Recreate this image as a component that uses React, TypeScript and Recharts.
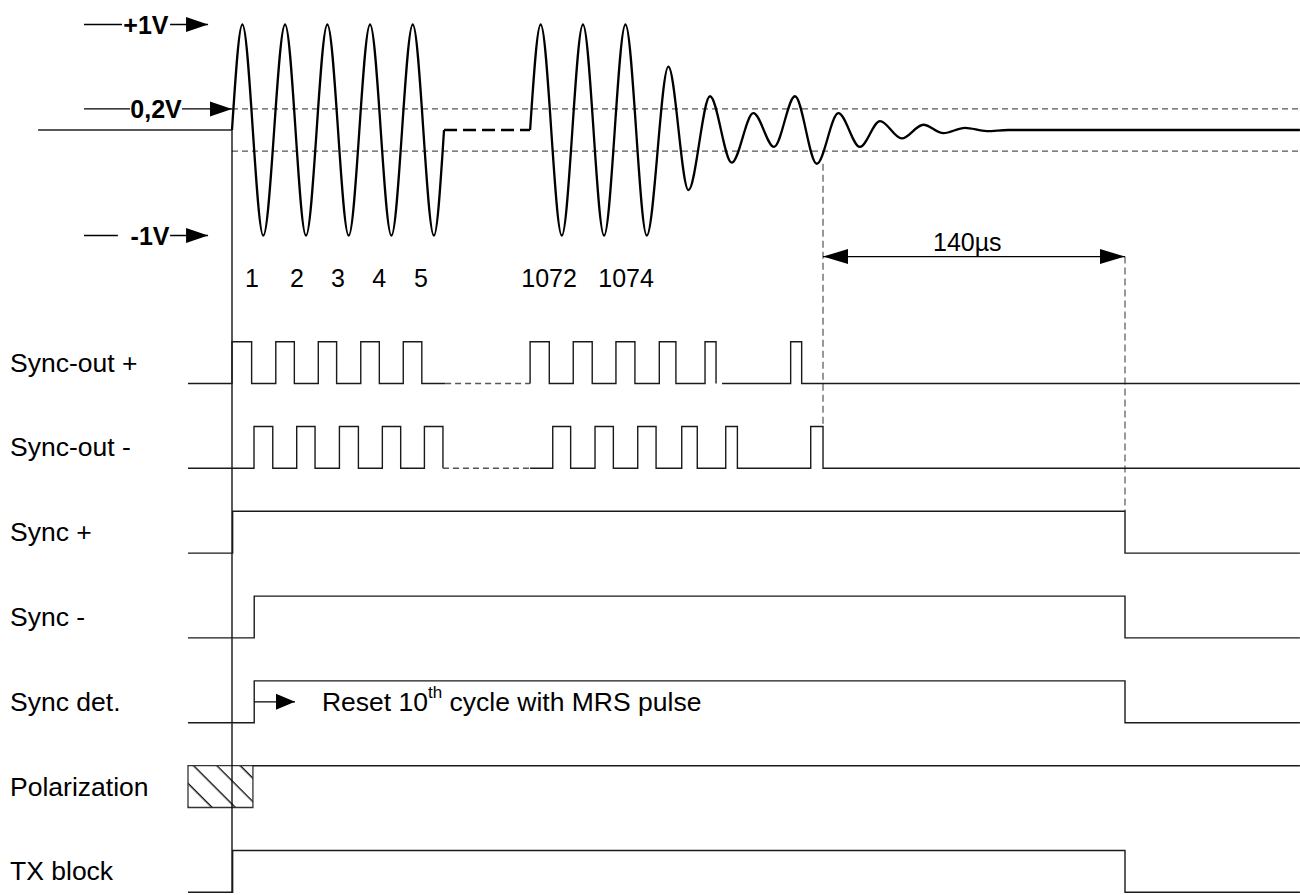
import { ComposedChart, Line, XAxis, YAxis, ReferenceLine, ReferenceDot, ReferenceArea } from 'recharts';

const W = 1300;
const H = 895;
const FONT = '"Liberation Sans", Arial, Helvetica, sans-serif';

// time axis in µs, t = 0 where the burst starts
const PX_PER_US = 2.157;
const T0_PX = 232;
const T_DOMAIN: [number, number] = [-T0_PX / PX_PER_US, (W - T0_PX) / PX_PER_US];
const T_END = 495.1;

// analog trace in volts
const ZERO_PX = 130;
const PX_PER_V = 105.5;
const V_DOMAIN: [number, number] = [(ZERO_PX - H) / PX_PER_V, ZERO_PX / PX_PER_V];
const pxToVolt = (px: number) => (ZERO_PX - px) / PX_PER_V;

// logic rows: 0 = low, 1 = high
const ROW_TOP = 341.7;
const ROW_STEP = 84.8;
const ROW_SWING = 41.8;
const rowHighPx = (i: number) => ROW_TOP + ROW_STEP * i;
const rowDomain = (i: number): [number, number] => {
  const hi = rowHighPx(i);
  const lo = hi + ROW_SWING;
  const max = lo / (lo - hi);
  return [max - H / (lo - hi), max];
};

type P = [number, number | null];

// ---- analog burst (t µs, volts) ----
const LEAD_IN: P[] = [[-89.9, 0], [0, 0]];
const BURST_FIRST: P[] = [
  [0, 0], [4.8, 1], [14.5, -1], [24.6, 1], [34.3, -1], [44.2, 1], [54.1, -1],
  [64.0, 1], [73.9, -1], [83.8, 1], [93.6, -1], [98.3, 0],
];
const BURST_SKIP: P[] = [[98.3, 0], [138.2, 0]];
const BURST_LAST: P[] = [
  [138.2, 0], [143.1, 1], [152.9, -1], [162.7, 1], [172.5, -1], [182.4, 1], [192.3, -1],
  [202.3, 0.6], [211.6, -0.57], [221.6, 0.32], [231.7, -0.31], [241.7, 0.16], [251.3, -0.16],
  [261.0, 0.32], [271.1, -0.32], [281.1, 0.16], [291.1, -0.16], [300.4, 0.085], [310.5, -0.08],
  [320.5, 0.05], [329.8, -0.03], [339.8, 0.02], [349.9, -0.01], [359.8, 0], [T_END, 0],
];
const CYCLE_LABELS = ['1', '2', '3', '4', '5', '1072', '1074'];
const CYCLE_T = [9.3, 30.1, 49.1, 68.2, 87.6, 147.0, 182.7];

// ---- logic rows ----
const ROW_LABELS = ['Sync-out +', 'Sync-out -', 'Sync +', 'Sync -', 'Sync det.', 'Polarization', 'TX block'];

const SYNC_OUT_P_A: P[] = [
  [-20.4, 0], [0, 1], [9.1, 0], [20.3, 1], [28.9, 0], [40.0, 1], [48.5, 0],
  [59.7, 1], [68.3, 0], [79.4, 1], [88.0, 0], [98.8, 0],
];
const SYNC_OUT_P_SKIP: P[] = [[98.8, 0], [138.2, 0]];
const SYNC_OUT_P_B: P[] = [
  [138.2, 0], [138.2, 1], [147.1, 0], [158.2, 1], [167.0, 0], [178.0, 1], [186.8, 0],
  [198.1, 1], [205.8, 0], [219.3, 1], [224.4, 0], [225.8, null], [227.2, 0],
  [259.0, 1], [264.1, 0], [T_END, 0],
];
const SYNC_OUT_N_A: P[] = [
  [-20.4, 0], [10.2, 1], [18.9, 0], [30.0, 1], [38.5, 0], [49.8, 1], [58.6, 0],
  [69.7, 1], [78.2, 0], [89.2, 1], [97.8, 0],
];
const SYNC_OUT_N_SKIP: P[] = [[97.8, 0], [138.2, 0]];
const SYNC_OUT_N_B: P[] = [
  [138.2, 0], [148.7, 1], [157.0, 0], [168.3, 1], [176.8, 0], [188.1, 1], [196.6, 0],
  [208.5, 1], [215.7, 0], [228.9, 1], [234.3, 0], [268.3, 1], [274.0, 0], [T_END, 0],
];
const SYNC_P: P[] = [[-20.4, 0], [0.3, 1], [414.0, 0], [T_END, 0]];
const SYNC_N: P[] = [[-20.4, 0], [10.3, 1], [414.0, 0], [T_END, 0]];
const SYNC_DET: P[] = [[-20.4, 0], [10.3, 1], [414.0, 0], [T_END, 0]];
const POLARIZATION: P[] = [[9.7, 1], [T_END, 1]];
const POLARIZATION_BOX: [number, number] = [-20.4, 9.7];
const TX_BLOCK: P[] = [[-20.4, 0], [0.3, 1], [414.0, 0], [T_END, 0]];

// timing annotation
const GUARD_START = 274.0;
const GUARD_END = 414.0;

// level markers at the left of the analog trace
const LEVELS = [
  { text: '+1V', v: 1, textT: -39.9, a: [-68.6, -51.0], b: [-28.7, -11.1], tip: -11.1 },
  { text: '0,2V', v: 0.2, textT: -35.2, a: [-68.6, -47.3], b: [-23.2, 0], tip: 0 },
  { text: '-1V', v: -1, textT: -38.0, a: [-68.6, -52.9], b: [-28.7, -11.1], tip: -11.1 },
];

const rows = (pts: P[]) => pts.map(([t, v]) => ({ t, v }));

const arrowHead = (len: number, half: number, dir: 1 | -1) => (p: any) => (
  <path d={`M${p.cx},${p.cy}l${-dir * len},${-half}v${2 * half}z`} fill="#000" />
);

const label = (text: string, anchor: 'start' | 'middle', size: number, weight: string = 'normal') => (p: any) => (
  <text x={p.cx} y={p.cy} textAnchor={anchor} dominantBaseline="central" fontFamily={FONT} fontSize={size} fontWeight={weight} fill="#000">
    {text}
  </text>
);

const resetNote = (p: any) => (
  <text x={p.cx} y={p.cy} dominantBaseline="central" fontFamily={FONT} fontSize={26.5} fill="#000">
    Reset 10
    <tspan dy={-10} fontSize={17}>th</tspan>
    <tspan dy={10}> cycle with MRS pulse</tspan>
  </text>
);

const LOGIC = '#1a1a1a';

function trace(id: string, data: P[], axis: string, opts: { dashed?: boolean; width?: number; curve?: 'monotone' | 'stepAfter' | 'linear'; color?: string } = {}) {
  return (
    <Line
      key={id}
      data={rows(data)}
      dataKey="v"
      yAxisId={axis}
      type={opts.curve ?? 'stepAfter'}
      stroke={opts.color ?? LOGIC}
      strokeWidth={opts.width ?? 1.4}
      strokeDasharray={opts.dashed ? '6 4' : undefined}
      dot={false}
      activeDot={false}
      isAnimationActive={false}
    />
  );
}

export default function App() {
  return (
    <div style={{ position: 'absolute', left: 0, top: 0, width: W, height: H, background: '#fff' }}>
      <ComposedChart width={W} height={H} margin={{ top: 0, right: 0, bottom: 0, left: 0 }}>
        <defs>
          <pattern id="hatch" patternUnits="userSpaceOnUse" width="16.5" height="16.5" patternTransform="rotate(-45)">
            <line x1="8" y1="0" x2="8" y2="16.5" stroke="#000" strokeWidth="1.3" />
          </pattern>
        </defs>
        <XAxis type="number" dataKey="t" domain={T_DOMAIN} allowDataOverflow hide />
        <YAxis yAxisId="wave" type="number" domain={V_DOMAIN} allowDataOverflow hide />
        {ROW_LABELS.map((_, i) => (
          <YAxis key={i} yAxisId={`row${i}`} type="number" domain={rowDomain(i)} allowDataOverflow hide />
        ))}

        {/* threshold lines */}
        <ReferenceLine yAxisId="wave" ifOverflow="visible" segment={[{ x: 0, y: 0.2 }, { x: T_DOMAIN[1], y: 0.2 }]} stroke="#555" strokeWidth={1.2} strokeDasharray="6 4" />
        <ReferenceLine yAxisId="wave" ifOverflow="visible" segment={[{ x: 0, y: -0.2 }, { x: T_DOMAIN[1], y: -0.2 }]} stroke="#555" strokeWidth={1.2} strokeDasharray="6 4" />

        {/* t = 0 marker through all rows */}
        <ReferenceLine yAxisId="wave" ifOverflow="visible" segment={[{ x: 0, y: 0 }, { x: 0, y: pxToVolt(rowHighPx(6) + ROW_SWING) }]} stroke="#000" strokeWidth={1.3} />

        {/* dashed guides for the 140µs window */}
        <ReferenceLine yAxisId="wave" ifOverflow="visible" segment={[{ x: GUARD_START, y: -0.32 }, { x: GUARD_START, y: pxToVolt(rowHighPx(1)) }]} stroke="#555" strokeWidth={1.2} strokeDasharray="7 4" />
        <ReferenceLine yAxisId="wave" ifOverflow="visible" segment={[{ x: GUARD_END, y: -1.2 }, { x: GUARD_END, y: pxToVolt(rowHighPx(2)) }]} stroke="#555" strokeWidth={1.2} strokeDasharray="7 4" />
        <ReferenceLine yAxisId="wave" ifOverflow="visible" segment={[{ x: GUARD_START, y: -1.2 }, { x: GUARD_END, y: -1.2 }]} stroke="#000" strokeWidth={1.3} />
        <ReferenceDot yAxisId="wave" ifOverflow="visible" x={GUARD_START} y={-1.2} r={1} shape={arrowHead(25, 7.5, -1)} />
        <ReferenceDot yAxisId="wave" ifOverflow="visible" x={GUARD_END} y={-1.2} r={1} shape={arrowHead(25, 7.5, 1)} />
        <ReferenceDot yAxisId="wave" ifOverflow="visible" x={340.9} y={-1.066} r={1} shape={label('140µs', 'middle', 25)} />

        {/* level markers */}
        {LEVELS.map((m) => [
          <ReferenceLine key={m.text + 'a'} yAxisId="wave" ifOverflow="visible" segment={[{ x: m.a[0], y: m.v }, { x: m.a[1], y: m.v }]} stroke="#000" strokeWidth={1.3} />,
          <ReferenceLine key={m.text + 'b'} yAxisId="wave" ifOverflow="visible" segment={[{ x: m.b[0], y: m.v }, { x: m.b[1], y: m.v }]} stroke="#000" strokeWidth={1.3} />,
          <ReferenceDot key={m.text + 't'} yAxisId="wave" ifOverflow="visible" x={m.textT} y={m.v} r={1} shape={label(m.text, 'middle', 25, 'bold')} />,
          <ReferenceDot key={m.text + 'h'} yAxisId="wave" ifOverflow="visible" x={m.tip} y={m.v} r={1} shape={arrowHead(22, 7.5, 1)} />,
        ])}

        {/* cycle numbers */}
        {CYCLE_LABELS.map((c, i) => (
          <ReferenceDot key={c} yAxisId="wave" ifOverflow="visible" x={CYCLE_T[i]} y={-1.4} r={1} shape={label(c, 'middle', 25)} />
        ))}

        {/* analog burst */}
        {trace('lead', LEAD_IN, 'wave', { curve: 'linear', width: 1.5, color: '#222' })}
        {trace('burst1', BURST_FIRST, 'wave', { curve: 'monotone', width: 2.3, color: '#000' })}
        <Line data={rows(BURST_SKIP)} dataKey="v" yAxisId="wave" type="linear" stroke="#000" strokeWidth={2.3} strokeDasharray="13 6" dot={false} activeDot={false} isAnimationActive={false} />
        {trace('burst2', BURST_LAST, 'wave', { curve: 'monotone', width: 2.3, color: '#000' })}

        {/* row labels */}
        {ROW_LABELS.map((name, i) => (
          <ReferenceDot key={name} yAxisId={`row${i}`} ifOverflow="visible" x={-102.9} y={0.5} r={1} shape={label(name, 'start', 26.5)} />
        ))}

        {/* logic traces */}
        {trace('so+a', SYNC_OUT_P_A, 'row0')}
        {trace('so+s', SYNC_OUT_P_SKIP, 'row0', { dashed: true, color: '#555' })}
        {trace('so+b', SYNC_OUT_P_B, 'row0')}
        {trace('so-a', SYNC_OUT_N_A, 'row1')}
        {trace('so-s', SYNC_OUT_N_SKIP, 'row1', { dashed: true, color: '#555' })}
        {trace('so-b', SYNC_OUT_N_B, 'row1')}
        {trace('s+', SYNC_P, 'row2')}
        {trace('s-', SYNC_N, 'row3')}
        {trace('sdet', SYNC_DET, 'row4')}
        {trace('pol', POLARIZATION, 'row5')}
        <ReferenceArea yAxisId="row5" ifOverflow="visible" x1={POLARIZATION_BOX[0]} x2={POLARIZATION_BOX[1]} y1={0} y2={1} fill="url(#hatch)" fillOpacity={1} stroke="#333" strokeWidth={1.3} />
        {trace('tx', TX_BLOCK, 'row6')}

        {/* sync det note */}
        <ReferenceLine yAxisId="row4" ifOverflow="visible" segment={[{ x: 10.3, y: 0.5 }, { x: 29.2, y: 0.5 }]} stroke="#000" strokeWidth={1.3} />
        <ReferenceDot yAxisId="row4" ifOverflow="visible" x={29.2} y={0.5} r={1} shape={arrowHead(19, 8, 1)} />
        <ReferenceDot yAxisId="row4" ifOverflow="visible" x={41.7} y={0.5} r={1} shape={resetNote} />
      </ComposedChart>
    </div>
  );
}
